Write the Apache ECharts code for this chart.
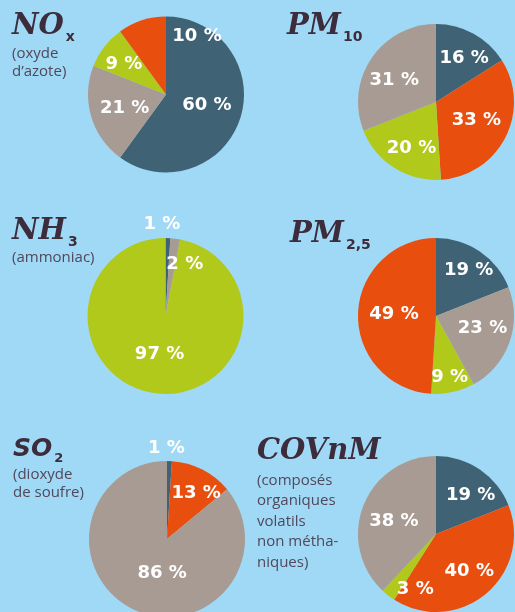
<!DOCTYPE html>
<html>
<head>
<meta charset="utf-8">
<script src="https://cdn.jsdelivr.net/npm/echarts@6/dist/echarts.min.js"></script>
<style>
  html, body { margin: 0; padding: 0; background: #a0d9f6; }
  #chart { width: 515px; height: 612px; }
</style>
</head>
<body>
<div id="chart"></div>
<script>
// slices listed clockwise from 12 o'clock, [sector, percent]
const noxData = [['bleu', 60], ['beige', 21], ['vert', 9], ['orange', 10]]
const pm10Data = [['bleu', 16], ['orange', 33], ['vert', 20], ['beige', 31]]
const nh3Data = [['bleu', 1], ['beige', 2], ['vert', 97]]
const pm25Data = [['bleu', 19], ['beige', 23], ['vert', 9], ['orange', 49]]
const so2Data = [['bleu', 1], ['orange', 13], ['beige', 86]]
const covnmData = [['bleu', 19], ['orange', 40], ['vert', 3], ['beige', 38]]

const titleMain = ['NO', 'PM', 'NH', 'PM', 'SO', 'COVnM']
const titleSub = ['x', '10', '3', '2,5', '2', '']
const titleNote = ['(oxyde\nd’azote)', '', '(ammoniac)', '', '(dioxyde\nde soufre)',
  '(composés\norganiques\nvolatils\nnon métha-\nniques)']

const sectorColors = { bleu: '#3f6275', orange: '#e84f0f', vert: '#b0c91a', beige: '#a89b93' }

// layout: pie centres, label nudges, title corner / gap / note line height
const pies = [
  { data: noxData, center: [166, 94.5], shift: [[1, -2], [-1, 2], [-9, -4], [44, -18]] },
  { data: pm10Data, center: [436, 102], shift: [[8, -7], [3, -1], [-2, 11], [-7, 2]] },
  { data: nh3Data, center: [165.5, 316], shift: [[-5, -50], [14, -10], [-2, -3]] },
  { data: pm25Data, center: [436, 316], shift: [[9, -11], [7, -1.5], [4.5, 20], [0, 0]] },
  { data: so2Data, center: [167, 539], shift: [[-2, -49], [10, -8], [13, -4]] },
  { data: covnmData, center: [436, 534], shift: [[11, -4], [6.5, 5], [5, 22.5], [-3, 3]] },
]
const titlePos = [[12, 12, 1, 18], [287, 12, 1, 18], [12, 217, 0, 18], [290, 220, 1, 18],
  [13, 437, 0, 18.5], [257, 437, 4, 20.5]]

const chart = echarts.init(document.getElementById('chart'))

const inkColor = '#3d2c3c'
const noteColor = '#51475a'

const title = titleMain.map((t, i) => {
  const sans = t === 'SO'
  const [left, top, gap, noteLine] = titlePos[i]
  return {
    text: titleSub[i] ? `{m|${t}}{s|${titleSub[i]}}` : `{m|${t}}`,
    subtext: titleNote[i],
    left,
    top,
    padding: 0,
    itemGap: gap,
    textStyle: {
      rich: {
        m: {
          fontFamily: sans ? 'DejaVu Sans' : 'DejaVu Serif',
          fontStyle: 'italic',
          fontWeight: 'bold',
          fontSize: sans ? 25 : 29,
          lineHeight: 36,
          verticalAlign: 'top',
          color: inkColor,
        },
        s: {
          fontFamily: 'DejaVu Sans',
          fontWeight: 'bold',
          fontSize: sans ? 13 : 14,
          lineHeight: 15,
          padding: [sans ? 15 : 18, 0, 0, 2],
          verticalAlign: 'top',
          color: inkColor,
        },
      },
    },
    subtextStyle: {
      fontFamily: 'Open Sans',
      fontSize: 15,
      lineHeight: noteLine,
      color: noteColor,
    },
  }
})

const series = pies.map(p => ({
  type: 'pie',
  center: p.center,
  radius: 78,
  startAngle: 90,
  clockwise: true,
  silent: true,
  data: p.data.map(([name, value]) => ({
    name, value, itemStyle: { color: sectorColors[name] },
  })),
  label: {
    show: true,
    position: 'inside',
    formatter: '{c} %',
    color: '#ffffff',
    fontFamily: 'DejaVu Sans',
    fontWeight: 'bold',
    fontSize: 18,
  },
  labelLine: { show: false },
  labelLayout: (params) => {
    const s = p.shift[params.dataIndex] || [0, 0]
    return { dx: s[0], dy: s[1] }
  },
  itemStyle: { borderWidth: 0 },
}))

chart.setOption({
  backgroundColor: '#a0d9f6',
  animation: false,
  title,
  series,
})
</script>
</body>
</html>
